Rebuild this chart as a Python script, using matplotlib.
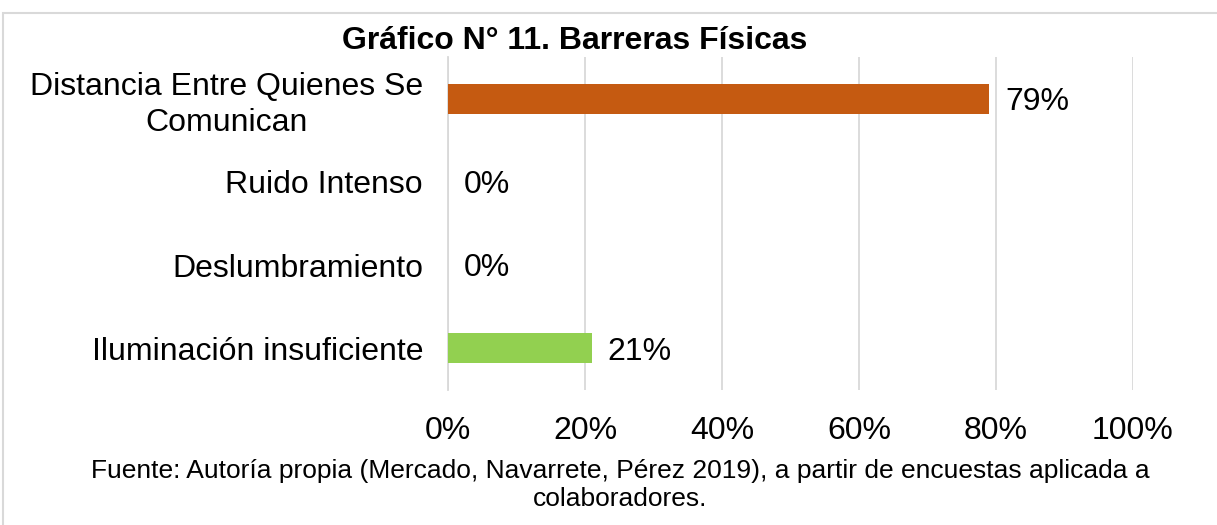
import matplotlib.pyplot as plt
from matplotlib.patches import Rectangle
from matplotlib.ticker import PercentFormatter

plt.rcParams['font.family'] = ['Liberation Sans', 'DejaVu Sans']

categorias = ['Iluminación insuficiente', 'Deslumbramiento', 'Ruido Intenso',
              'Distancia Entre Quienes Se\nComunican']
valores = [0.21, 0.0, 0.0, 0.79]
colores = ['#92D050', '#C55A11', '#C55A11', '#C55A11']
etiquetas = ['21%', '0%', '0%', '79%']

fig = plt.figure(figsize=(12.17, 5.25), dpi=100)
ax = fig.add_axes([448 / 1217, 1 - 390 / 525, 685 / 1217, 333 / 525])

y = range(len(categorias))
barras = ax.barh(y, valores, height=0.36, color=colores, zorder=3)
for b, t in zip(barras, etiquetas):
    ax.text(b.get_width() + 0.023, b.get_y() + b.get_height() / 2 - 0.04, t,
            va='center', ha='left', fontsize=23)

ax.set_xlim(0, 1)
ax.set_ylim(-0.5, 3.5)
ax.set_yticks(list(y))
ax.set_yticklabels(categorias, fontsize=23, linespacing=1.25,
                   multialignment='center')
ax.set_xticks([0, 0.2, 0.4, 0.6, 0.8, 1.0])
ax.xaxis.set_major_formatter(PercentFormatter(1.0, decimals=0))
ax.tick_params(axis='x', labelsize=23, length=0, pad=19)
ax.tick_params(axis='y', length=0, pad=18)
ax.grid(axis='x', color='#D9D9D9', linewidth=1.3, zorder=0)
for s in ['top', 'right', 'bottom']:
    ax.spines[s].set_visible(False)
ax.spines['left'].set_color('#D9D9D9')
ax.spines['left'].set_linewidth(1.3)

fig.text(575 / 1217, 1 - 41 / 525, 'Gráfico N° 11. Barreras Físicas',
         ha='center', va='center', fontsize=23, fontweight='bold')
fig.text(620 / 1217, 1 - 485 / 525,
         'Fuente: Autoría propia (Mercado, Navarrete, Pérez 2019), a partir de encuestas aplicada a\ncolaboradores.',
         ha='center', va='center', fontsize=19, linespacing=1.25)

# marco gris de la figura
fig.patches.append(Rectangle((3 / 1217, -0.05), 1.1, 1 - 13 / 525 + 0.05,
                             transform=fig.transFigure, fill=False,
                             edgecolor='#D9D9D9', linewidth=1.5))

fig.savefig('out.png', dpi=100)
